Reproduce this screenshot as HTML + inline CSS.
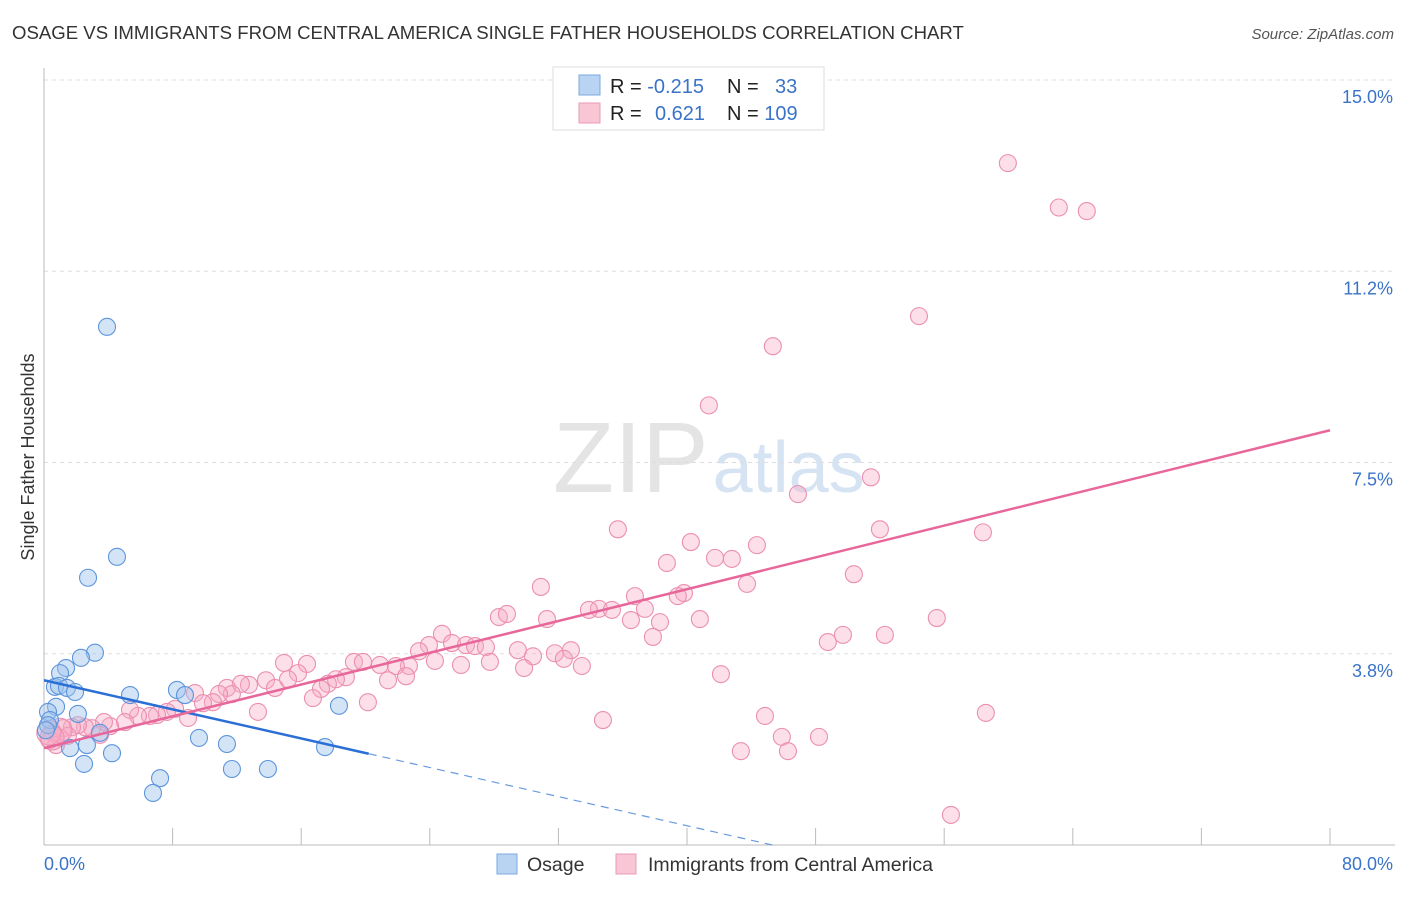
<!DOCTYPE html>
<html><head><meta charset="utf-8">
<style>
body{margin:0;background:#fff;font-family:"Liberation Sans",sans-serif;}
svg text{font-family:"Liberation Sans",sans-serif;}
</style></head>
<body>
<svg id="chart" width="1406" height="892" xmlns="http://www.w3.org/2000/svg">
<text x="12" y="39" font-size="18.6" fill="#333">OSAGE VS IMMIGRANTS FROM CENTRAL AMERICA SINGLE FATHER HOUSEHOLDS CORRELATION CHART</text>
<text x="1394" y="39" font-size="15" fill="#555" text-anchor="end" font-style="italic">Source: ZipAtlas.com</text>
<text x="553" y="492" font-size="100" fill="#e4e4e4" font-family="Liberation Serif,serif">ZIP<tspan fill="#d5e3f3" font-family="Liberation Sans,sans-serif" font-size="72" dx="4">atlas</tspan></text>
<g id="grid"></g>
<g id="axes"></g>
<g id="pink"></g>
<g id="blue"></g>
<g id="lines"></g>
<text transform="translate(34,457) rotate(-90)" font-size="18" fill="#333" text-anchor="middle">Single Father Households</text>
<g>
<rect x="553" y="67" width="271" height="63" fill="#fff" stroke="#ddd"/>
<rect x="579" y="75" width="21" height="20" fill="#b9d3f3" stroke="#7aa8e0"/>
<rect x="579" y="103" width="21" height="20" fill="#f9c6d6" stroke="#eb9ab5"/>
<text x="610" y="93" font-size="20" fill="#222">R = <tspan fill="#3a73c8">-0.215</tspan></text>
<text x="727" y="93" font-size="20" fill="#222">N = <tspan fill="#3a73c8" x="775">33</tspan></text>
<text x="610" y="120" font-size="20" fill="#222">R = <tspan fill="#3a73c8" x="655">0.621</tspan></text>
<text x="727" y="120" font-size="20" fill="#222">N = <tspan fill="#3a73c8">109</tspan></text>
</g>
<g>
<rect x="497" y="854" width="20" height="20" fill="#b9d3f3" stroke="#7aa8e0"/>
<text x="527" y="871" font-size="19.5" fill="#333">Osage</text>
<rect x="616" y="854" width="20" height="20" fill="#f9c6d6" stroke="#eb9ab5"/>
<text x="648" y="871" font-size="19.5" fill="#333">Immigrants from Central America</text>
</g>
</svg>
<script>
const yTicks=[3.75,7.5,11.25,15];
const yTickLabels=["3.8%","7.5%","11.2%","15.0%"];
const xTicks=[0,8,16,24,32,40,48,56,64,72,80];
const blueX=[3.92,4.54,2.74,3.17,2.30,1.37,1.0,0.68,0.93,1.43,1.93,5.35,8.27,8.77,0.75,0.25,2.11,0.37,0.25,3.48,1.62,2.67,4.23,2.49,9.64,11.38,17.48,18.35,7.22,6.78,11.69,13.93,0.12];
const blueY=[10.16,5.65,5.24,3.77,3.67,3.47,3.37,3.10,3.12,3.08,3.00,2.94,3.04,2.94,2.71,2.61,2.57,2.45,2.35,2.20,1.90,1.96,1.80,1.59,2.10,1.98,1.92,2.73,1.31,1.02,1.49,1.49,2.25];
const pinkX=[59.96,63.13,64.87,54.43,45.34,41.36,51.44,46.90,35.70,52.00,58.41,40.24,44.35,41.74,42.79,38.75,50.38,30.91,43.73,39.81,36.76,39.43,28.30,28.80,34.52,33.90,35.33,37.38,31.29,36.51,38.32,40.80,55.54,52.31,49.70,48.76,37.88,24.76,23.95,23.33,25.38,26.25,26.81,27.49,29.48,31.78,32.78,30.42,32.34,33.46,25.94,27.74,29.86,24.32,22.70,20.90,21.89,22.52,21.40,19.28,19.84,18.78,18.16,17.66,17.23,16.36,15.80,14.93,15.18,13.81,14.37,12.75,12.25,11.38,11.69,10.89,9.39,10.51,9.89,8.96,8.15,7.65,7.03,6.59,5.85,5.35,5.04,4.11,3.73,3.48,2.99,2.55,2.11,1.74,1.18,1.00,0.56,0.37,0.75,1.49,20.15,13.31,16.73,34.77,42.11,44.85,43.35,45.90,46.28,48.21,58.59,56.42,1.00,0.3,0.5];
const pinkY=[13.37,12.50,12.43,10.37,9.78,8.62,7.21,6.88,6.19,6.19,6.13,5.94,5.88,5.63,5.61,5.53,5.31,5.06,5.12,4.94,4.88,4.88,4.47,4.53,4.63,4.61,4.61,4.63,4.43,4.41,4.37,4.43,4.45,4.12,4.12,3.98,4.08,4.14,3.92,3.80,3.96,3.92,3.90,3.88,3.82,3.76,3.82,3.70,3.65,3.51,3.53,3.59,3.47,3.61,3.51,3.53,3.51,3.31,3.23,3.59,3.59,3.29,3.25,3.16,3.06,3.55,3.37,3.57,3.25,3.23,3.08,3.14,3.16,3.08,2.96,2.96,2.98,2.80,2.78,2.49,2.67,2.61,2.55,2.53,2.53,2.65,2.41,2.33,2.41,2.16,2.29,2.31,2.35,2.31,2.29,2.10,2.20,2.06,1.96,2.14,2.80,2.61,2.88,2.45,3.35,2.53,1.84,2.12,1.84,2.12,2.59,0.59,2.25,2.2,2.1];
const blueFit=[3.23,-0.0713];
const blueFitRange=[0,20.2];
const pinkFit=[1.90,0.0779];
const NS="http://www.w3.org/2000/svg";
const X0=44,X1=1330,Y0=845,Y1=80;
const sx=v=>X0+(v/80)*(X1-X0);
const sy=v=>Y0-(v/15)*(Y0-Y1);
function mk(tag,at,parent){const e=document.createElementNS(NS,tag);for(const k in at)e.setAttribute(k,at[k]);parent.appendChild(e);return e;}
const grid=document.getElementById('grid'),axes=document.getElementById('axes');
yTicks.forEach((t,i)=>{
 const l=mk('line',{x1:X0,x2:1395,y1:sy(t),y2:sy(t),stroke:'#ddd','stroke-dasharray':'4,4'},grid);
 
 
 const tx=mk('text',{x:1393,y:sy(t)+23,'font-size':18,fill:'#3a73c8','text-anchor':'end'},axes);
 tx.textContent=yTickLabels[i];
 
 
});
const ax=mk('line',{x1:X0,x2:1395,y1:Y0,y2:Y0,stroke:'#bbb'},axes);


const ay=mk('line',{x1:X0,x2:X0,y1:68,y2:Y0,stroke:'#bbb'},axes);


xTicks.forEach(t=>{
 const l=mk('line',{x1:sx(t),x2:sx(t),y1:828,y2:Y0,stroke:'#bbb'},axes);
 
 
});
const xl0=mk('text',{x:44,y:870,'font-size':18,fill:'#3a73c8'},axes);xl0.textContent='0.0%';


const xl1=mk('text',{x:1393,y:870,'font-size':18,fill:'#3a73c8','text-anchor':'end'},axes);xl1.textContent='80.0%';


const pg=document.getElementById('pink');
pinkX.forEach((v,i)=>{
 const c=mk('circle',{cx:sx(v),cy:sy(pinkY[i]),r:(i>=pinkX.length-3?12:8.5),fill:'rgba(246,170,196,0.38)',stroke:'#eb8fb0','stroke-width':1.1},pg);
 
 
});
const bg=document.getElementById('blue');
blueX.forEach((v,i)=>{
 const c=mk('circle',{cx:sx(v),cy:sy(blueY[i]),r:8.5,fill:'rgba(160,196,238,0.45)',stroke:'#5d95dc','stroke-width':1.1},bg);
 
 
});
const lg=document.getElementById('lines');
const bmax=blueFitRange[1];
const b1=mk('line',{x1:sx(blueFitRange[0]),y1:sy(blueFit[0]+blueFit[1]*blueFitRange[0]),x2:sx(bmax),y2:sy(blueFit[0]+blueFit[1]*bmax),stroke:'#2a6fd6','stroke-width':2.5},lg);


const xe=-blueFit[0]/blueFit[1];
const b2=mk('line',{x1:sx(bmax),y1:sy(blueFit[0]+blueFit[1]*bmax),x2:sx(xe),y2:sy(0),stroke:'#6a9be0','stroke-width':1.2,'stroke-dasharray':'8,6'},lg);


const p1=mk('line',{x1:sx(0),y1:sy(pinkFit[0]),x2:sx(80),y2:sy(pinkFit[0]+pinkFit[1]*80),stroke:'#e8679a','stroke-width':2.5},lg);


</script>
</body></html>
